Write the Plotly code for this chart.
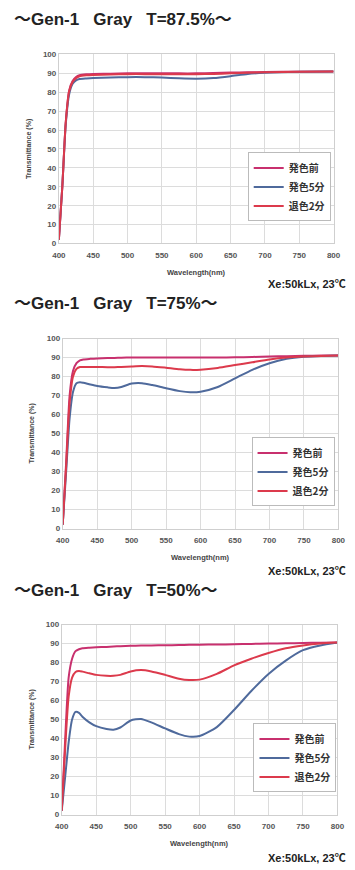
import plotly.graph_objects as go

W, H = 355, 870

NB = "\u00a0"
titles = ["〜Gen-1" + NB * 3 + "Gray" + NB * 3 + "T=87.5%〜",
          "〜Gen-1" + NB * 3 + "Gray" + NB * 3 + "T=75%〜",
          "〜Gen-1" + NB * 3 + "Gray" + NB * 3 + "T=50%〜"]
series_names = ["発色前", "発色5分", "退色2分"]
note_text = "Xe:50kLx, 23℃"

wl1 = [400, 405, 410, 415, 420, 425, 430, 440, 450, 475, 500, 525, 550, 575, 600, 625, 650, 675, 700, 750, 800]
before1 = [2, 30, 64, 81, 86, 88, 89, 89.5, 89.7, 89.8, 90, 90, 90, 90, 90, 90.2, 90.4, 90.6, 90.7, 90.9, 91]
five1 = [2, 30, 63, 79, 84.5, 86.3, 87, 87.3, 87.5, 87.8, 88, 88, 87.8, 87.4, 87.2, 87.5, 88.5, 89.7, 90.3, 90.8, 91]
fade1 = [2, 30, 64, 80.5, 85.5, 87.5, 88.5, 89, 89.2, 89.4, 89.6, 89.6, 89.6, 89.6, 89.6, 89.7, 90, 90.3, 90.6, 90.9, 91]

wl2 = [400, 405, 410, 415, 420, 425, 430, 440, 450, 465, 475, 485, 500, 515, 530, 550, 570, 585, 600, 625, 650, 675, 700, 725, 750, 775, 800]
before2 = [2, 35, 70, 83, 87, 88.5, 89, 89.3, 89.5, 89.7, 89.8, 89.9, 90, 90, 90, 90, 90, 90, 90, 90, 90.1, 90.3, 90.5, 90.7, 90.9, 91, 91]
five2 = [2, 30, 58, 72, 76.5, 77, 76.7, 75.8, 75, 74.3, 74, 74.5, 76.3, 76.5, 75.5, 73.8, 72.3, 71.7, 72, 74.5, 79, 83.5, 87, 89.3, 90.4, 90.8, 91]
fade2 = [2, 33, 66, 80, 84, 85, 85, 85, 85, 84.9, 84.9, 85, 85.3, 85.5, 85.3, 84.6, 83.8, 83.5, 83.6, 84.5, 86, 87.5, 89, 90, 90.5, 90.8, 91]

wl3 = [400, 405, 410, 415, 420, 425, 430, 440, 450, 465, 475, 485, 500, 515, 530, 550, 570, 585, 600, 625, 650, 675, 700, 725, 750, 775, 800]
before3 = [2, 40, 72, 82, 86, 87, 87.5, 87.8, 88, 88.2, 88.4, 88.6, 88.8, 89, 89, 89.1, 89.2, 89.3, 89.4, 89.5, 89.6, 89.8, 90, 90.1, 90.3, 90.4, 90.5]
five3 = [2, 20, 38, 50, 54, 53.5, 51.5, 48.5, 46.5, 45, 44.6, 45.8, 49.5, 50.3, 48.5, 45.3, 42.3, 41, 41.3, 46, 55, 65, 74, 81, 86.5, 89, 90.5]
fade3 = [2, 35, 62, 72, 75, 75.5, 75.2, 74.3, 73.5, 73, 73, 73.5, 75.3, 76, 75.3, 73.5, 71.5, 70.8, 71, 74, 78.5, 82, 85, 87.5, 89, 90, 90.5]

charts = [
    (wl1, [before1, five1, fade1]),
    (wl2, [before2, five2, fade2]),
    (wl3, [before3, five3, fade3]),
]

colors = ["#C8306E", "#4F6A9C", "#DC3A4C"]

# pixel layout (x0, x1, ytop, ybottom) of each plot area
areas = [(54, 340, 51, 242), (58, 345, 338, 530), (57, 344, 627, 819)]
title_y = [16, 303, 593]
note_y = [283, 573, 863]
legend_box = [(337, 150), (341, 438), (343, 727)]

def px(x):
    return x / W

def py(y):
    return 1 - y / H

fig = go.Figure()
layout = dict(
    width=W, height=H, margin=dict(l=0, r=0, t=0, b=0),
    paper_bgcolor="white", plot_bgcolor="white", showlegend=True,
    font=dict(family="Liberation Sans, Arial, sans-serif", color="#333"),
)
annotations = []

for i, (wl, ys) in enumerate(charts):
    sfx = "" if i == 0 else str(i + 1)
    x0, x1, yt, yb = areas[i]
    for j, (name, vals) in enumerate(zip(series_names, ys)):
        fig.add_trace(go.Scatter(
            x=wl, y=vals, mode="lines", name=name,
            line=dict(color=colors[j], width=2, shape="spline", smoothing=0.6),
            xaxis="x" + sfx, yaxis="y" + sfx,
            legend="legend" + sfx,
        ))
    layout["xaxis" + sfx] = dict(
        domain=[px(x0), px(x1)], anchor="y" + sfx, range=[400, 800], dtick=50,
        showgrid=True, gridcolor="#dcdcdc", gridwidth=1, zeroline=False,
        showline=True, linecolor="#cfcfcf", mirror=True, ticks="outside",
        ticklen=4, tickcolor="rgba(0,0,0,0)",
        tickfont=dict(size=8, color="#555", family="Liberation Sans, Arial", weight="bold"),
        fixedrange=True,
    )
    layout["yaxis" + sfx] = dict(
        domain=[py(yb), py(yt)], anchor="x" + sfx, range=[0, 100], dtick=10,
        showgrid=True, gridcolor="#dcdcdc", gridwidth=1, zeroline=False,
        showline=True, linecolor="#cfcfcf", mirror=True, ticks="",
        tickfont=dict(size=8, color="#555", family="Liberation Sans, Arial", weight="bold"),
        fixedrange=True,
    )
    lx, ly = legend_box[i]
    layout["legend" + sfx] = dict(
        x=px(lx), y=py(ly), xanchor="right", yanchor="top",
        bgcolor="white", bordercolor="#bbbbbb", borderwidth=1,
        font=dict(size=10, color="#333", family="Noto Sans CJK JP", weight="bold"),
        itemwidth=30, tracegroupgap=0, traceorder="normal",
    )
    annotations.append(dict(
        text=titles[i], x=px(5), y=py(title_y[i]), xref="paper", yref="paper",
        xanchor="left", yanchor="middle", showarrow=False,
        font=dict(size=17, color="#222", family="Liberation Sans, Noto Sans CJK JP", weight="bold"),
    ))
    annotations.append(dict(
        text="Transmittance (%)", textangle=-90, x=px(23 if i == 0 else 26),
        y=py((yt + yb) / 2), xref="paper", yref="paper",
        xanchor="center", yanchor="middle", showarrow=False,
        font=dict(size=7, color="#444", family="Liberation Sans, Arial", weight="bold"),
    ))
    annotations.append(dict(
        text="Wavelength(nm)", x=px((x0 + x1) / 2), y=py(yb + 29),
        xref="paper", yref="paper", xanchor="center", yanchor="middle",
        showarrow=False,
        font=dict(size=7.5, color="#444", family="Liberation Sans, Arial", weight="bold"),
    ))
    annotations.append(dict(
        text=note_text, x=px(355), y=py(note_y[i]), xref="paper", yref="paper",
        xanchor="right", yanchor="middle", showarrow=False,
        font=dict(size=11, color="#222", family="Liberation Sans, Noto Sans CJK JP", weight="bold"),
    ))

layout["annotations"] = annotations
fig.update_layout(**layout)
fig.write_html("out.html", config={"displayModeBar": False},
               post_script="document.body.style.margin='0';document.body.style.overflow='hidden';")
